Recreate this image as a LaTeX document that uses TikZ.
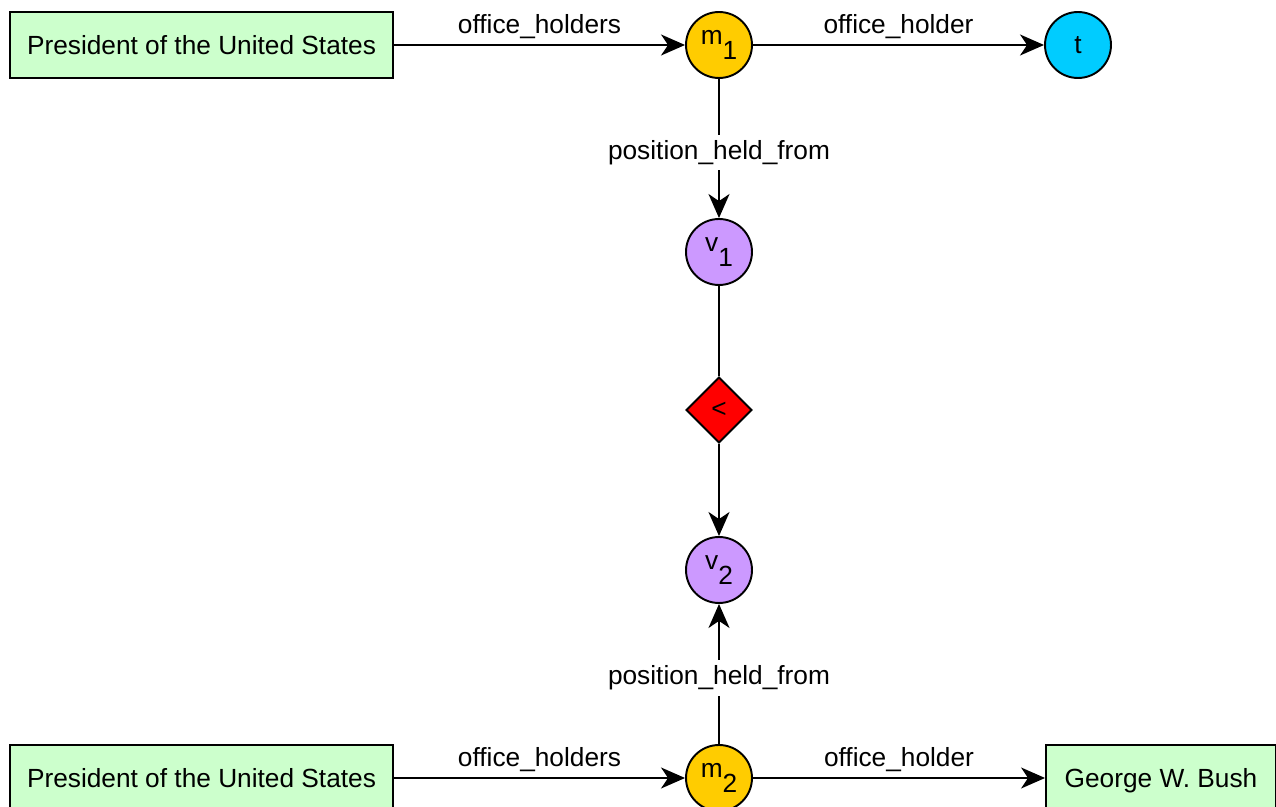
\documentclass[tikz,border=0pt]{standalone}
\usepackage{fontspec}
\setmainfont{Liberation Sans}
\usetikzlibrary{arrows.meta,shapes.geometric}
\definecolor{entgreen}{HTML}{CCFFCC}
\definecolor{mgold}{HTML}{FFCC00}
\definecolor{tcyan}{HTML}{00CCFF}
\definecolor{vpurple}{HTML}{CC99FF}
\def\lowix#1{\raisebox{-0.55em}{#1}}
\tikzset{
	entity/.style={draw, line width=1.1pt, fill=entgreen, minimum height=1.32cm, inner sep=0pt, text depth=0pt},
	var/.style={circle, draw, line width=1.1pt, minimum size=1.32cm, inner sep=0pt},
	cmp/.style={diamond, draw, line width=1.1pt, fill=red, minimum width=1.32cm, minimum height=1.32cm, inner sep=0pt},
	rel/.style={line width=1.1pt, -{Stealth[length=0.48cm, width=0.42cm, inset=0.14cm]}},
	lab/.style={midway, yshift=0.36cm},
	vlab/.style={midway, fill=white, inner sep=3pt, yshift=-0.08cm}
}

\begin{document}
\begin{tikzpicture}[x=0.02cm, y=-0.02cm, font=\fontsize{14.95}{18}\selectfont]
			%%%%% START %%%%%
			\useasboundingbox (0, 0) rectangle (1276, 807);
			
			\node[entity, minimum width=7.66cm] (pres1) at (201.5, 45) {President of the United States};
			\node[var, fill=mgold] (m1) at (719, 45) {m\lowix{1}};
			\node[var, fill=tcyan] (t) at (1078, 45) {t};
			
			\node[var, fill=vpurple] (v1) at (719, 252) {v\lowix{1}};
			\node[cmp] (lt) at (719, 410) {<};
			\node[var, fill=vpurple] (v2) at (719, 570) {v\lowix{2}};
			
			\node[entity, minimum width=7.66cm] (pres2) at (201.5, 778) {President of the United States};
			\node[var, fill=mgold] (m2) at (719, 778) {m\lowix{2}};
			\node[entity, minimum width=4.6cm] (bush) at (1161, 778) {George W. Bush};
			
			\draw[rel] (pres1) -- node[lab] {office\_holders} (m1);
			\draw[rel] (m1) -- node[lab] {office\_holder} (t);
			\draw[rel] (m1) -- node[vlab] {position\_held\_from} (v1);
			
			\draw[line width=1.1pt] (v1) -- (lt);
			\draw[rel] (lt) -- (v2);
			
			\draw[rel] (m2) -- node[vlab] {position\_held\_from} (v2);
			\draw[rel] (pres2) -- node[lab] {office\_holders} (m2);
			\draw[rel] (m2) -- node[lab] {office\_holder} (bush);
			
			%%%%% END %%%%%
\end{tikzpicture}
\end{document}
